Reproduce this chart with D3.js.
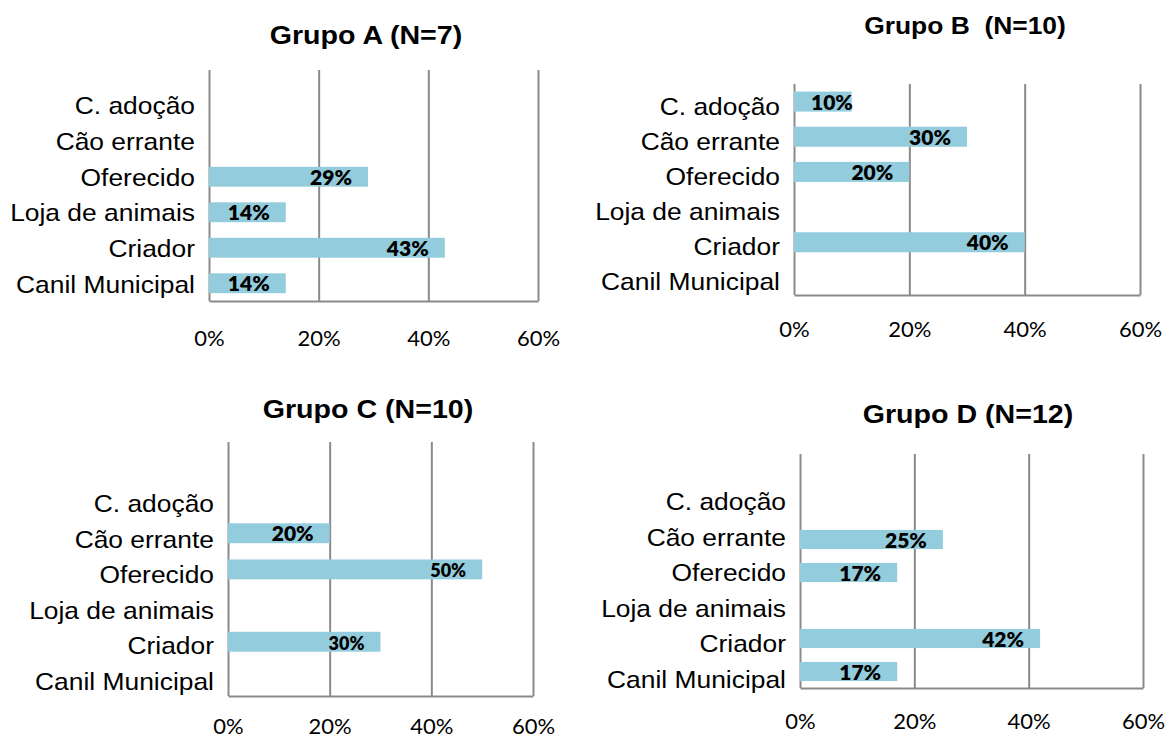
<!DOCTYPE html>
<html>
<head>
<meta charset="utf-8">
<script src="https://cdn.jsdelivr.net/npm/d3@7"></script>
<style>
  body { margin: 0; background: #ffffff; }
  text { white-space: pre; }
</style>
</head>
<body>
<svg id="chart" width="1168" height="740"></svg>
<script>
// Origin of the dog, per group (percent of respondents)
const categories = ["C. adoção", "Cão errante", "Oferecido", "Loja de animais", "Criador", "Canil Municipal"];
const valuesA = [null, null, 29, 14, 43, 14];
const valuesB = [10, 30, 20, null, 40, null];
const valuesC = [null, 20, 50, null, 30, null];
const valuesD = [null, 25, 17, null, 42, 17];
const titles = ["Grupo A (N=7)", "Grupo B  (N=10)", "Grupo C (N=10)", "Grupo D (N=12)"];
const tickValues = [0, 20, 40, 60];
const tickLabels = ["0%", "20%", "40%", "60%"];

// Panel placement and styling (bar bands and label bands are laid out separately)
const panels = [
  { values: valuesA, title: titles[0], x0: 209, x1: 538, gridTop: 70, bandTop: 88, bottom: 301, pad: 0.44,
    labelTop: 87, labelBottom: 301,
    titleX: 366, titleY: 44, titleSize: 26, tickY: 45, labelSizes: [21, 21, 21, 21, 21, 21] },
  { values: valuesB, title: titles[1], x0: 794, x1: 1140, gridTop: 84, bandTop: 84, bottom: 295, pad: 0.43,
    labelTop: 87.5, labelBottom: 298.5,
    titleX: 965, titleY: 34, titleSize: 24, tickY: 42, labelSizes: [21, 21, 21, 21, 21, 21] },
  { values: valuesC, title: titles[2], x0: 228, x1: 533, gridTop: 442, bandTop: 479, bottom: 696, pad: 0.45,
    labelTop: 485, labelBottom: 698,
    titleX: 368, titleY: 418, titleSize: 26, tickY: 38, labelSizes: [21, 21, 18, 21, 18, 21] },
  { values: valuesD, title: titles[3], x0: 800, x1: 1143, gridTop: 454, bandTop: 490, bottom: 688, pad: 0.42,
    labelTop: 483, labelBottom: 696,
    titleX: 968, titleY: 423, titleSize: 26, tickY: 41, labelSizes: [21, 21, 21, 21, 21, 21] }
];

const STRETCH = 1.1;
const barColor = "#93cddd";
const gridColor = "#8a8a8a";
const svg = d3.select("#chart");

// text helper with optional horizontal widening
function placedText(parent, x, y, str, anchor, sx) {
  return parent.append("text")
    .attr("transform", `translate(${x},${y}) scale(${sx},1)`)
    .attr("text-anchor", anchor)
    .text(str);
}

panels.forEach(p => {
  const g = svg.append("g");
  const x = d3.scaleLinear().domain([0, 60]).range([p.x0, p.x1]);
  const y = d3.scaleBand().domain(categories).range([p.bandTop, p.bottom])
    .paddingInner(p.pad).paddingOuter(p.pad / 2);
  const yLab = d3.scalePoint().domain(categories).range([p.labelTop, p.labelBottom]).padding(0.5);

  // gridlines, bottom axis line and tick labels
  const axis = d3.axisBottom(x)
    .tickValues(tickValues)
    .tickFormat((d, i) => tickLabels[i])
    .tickSizeInner(-(p.bottom - p.gridTop))
    .tickSizeOuter(0);
  const ax = g.append("g").attr("transform", `translate(0,${p.bottom})`).call(axis);
  ax.select(".domain").attr("stroke", gridColor).attr("stroke-width", 2);
  ax.selectAll(".tick line").attr("stroke", gridColor).attr("stroke-width", 2);
  ax.selectAll(".tick text")
    .attr("y", p.tickY).attr("dy", null)
    .attr("fill", "#000")
    .style("font-family", "Lato, 'Open Sans', sans-serif")
    .style("font-size", "22px");

  // bars
  const rows = categories.map((c, i) => ({ cat: c, v: p.values[i], size: p.labelSizes[i] }))
    .filter(d => d.v !== null);
  g.append("g").selectAll("rect").data(rows).join("rect")
    .attr("x", x(0))
    .attr("y", d => y(d.cat))
    .attr("width", d => x(d.v) - x(0))
    .attr("height", y.bandwidth())
    .attr("fill", barColor);

  // category labels
  const lab = g.append("g")
    .style("font-family", "'Liberation Sans', Arial, sans-serif")
    .style("font-size", "24px").attr("fill", "#000");
  categories.forEach(c => {
    placedText(lab, p.x0 - 14, yLab(c) + 9.5, c, "end", STRETCH);
  });

  // value labels, inside the bar end
  const vl = g.append("g")
    .style("font-family", "Lato, 'Open Sans', sans-serif")
    .style("font-weight", "800").attr("fill", "#000");
  rows.forEach(d => {
    const t = placedText(vl, 0, 0, d.v + "%", "end", 1).style("font-size", d.size + "px");
    const w = t.node().getComputedTextLength();
    const xe = Math.max(x(d.v) - 16, x(0) + 17 + w);
    const yb = y(d.cat) + y.bandwidth() / 2 + 8;
    t.attr("transform", `translate(${xe},${yb})`);
  });

  // title
  placedText(g, p.titleX, p.titleY, p.title, "middle", STRETCH)
    .style("font-family", "'Liberation Sans', Arial, sans-serif")
    .style("font-weight", "bold")
    .style("font-size", p.titleSize + "px")
    .attr("fill", "#000");
});
</script>
</body>
</html>
